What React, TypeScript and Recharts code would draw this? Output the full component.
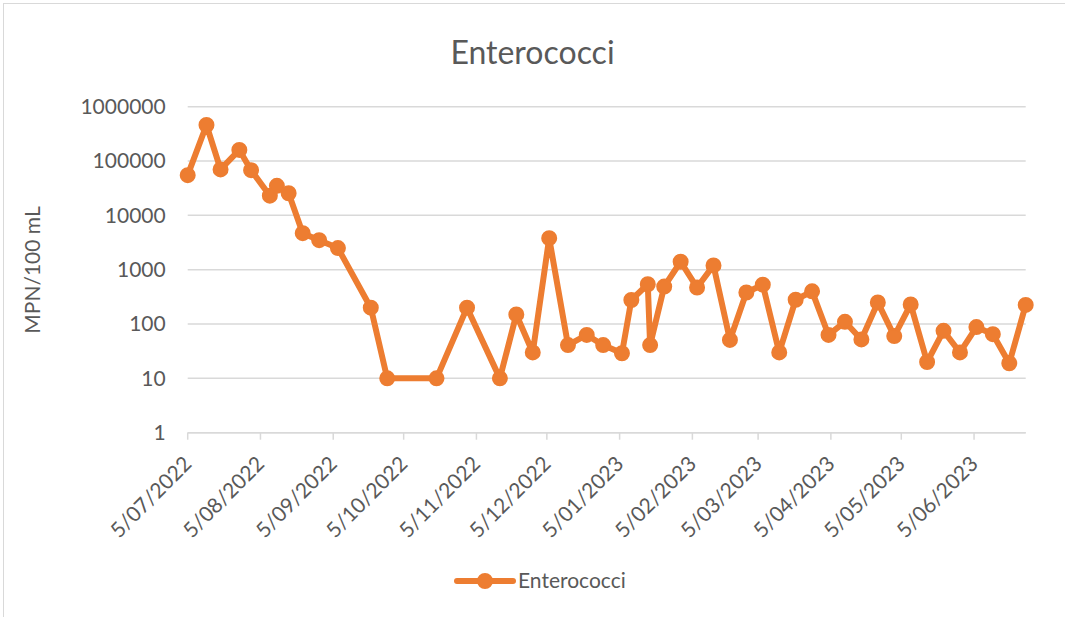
import React from "react";
import { LineChart, Line, XAxis, YAxis, CartesianGrid } from "recharts";

const seriesName = "Enterococci";
const sampleDates = [
  "2022-07-05", "2022-07-13", "2022-07-19", "2022-07-27", "2022-08-01", "2022-08-09",
  "2022-08-12", "2022-08-17", "2022-08-23", "2022-08-30", "2022-09-07", "2022-09-21",
  "2022-09-28", "2022-10-19", "2022-11-01", "2022-11-15", "2022-11-22", "2022-11-29",
  "2022-12-06", "2022-12-14", "2022-12-22", "2022-12-29", "2023-01-06", "2023-01-10",
  "2023-01-17", "2023-01-18", "2023-01-24", "2023-01-31", "2023-02-07", "2023-02-14",
  "2023-02-21", "2023-02-28", "2023-03-07", "2023-03-14", "2023-03-21", "2023-03-28",
  "2023-04-04", "2023-04-11", "2023-04-18", "2023-04-25", "2023-05-02", "2023-05-09",
  "2023-05-16", "2023-05-23", "2023-05-30", "2023-06-06", "2023-06-13", "2023-06-20",
  "2023-06-27",
];
const enterococciValues = [
  55000, 460000, 70000, 160000, 68000, 23000,
  35000, 25500, 4700, 3500, 2500, 200,
  10, 10, 200, 10, 150, 30,
  3800, 41, 63, 41, 29, 277,
  540, 41, 490, 1400, 470, 1200,
  51, 380, 530, 30, 280, 400,
  63, 110, 52, 250, 60, 230,
  20, 75, 30, 88, 65, 19,
  225,
];
const xTickLabels = [
  "5/07/2022", "5/08/2022", "5/09/2022", "5/10/2022", "5/11/2022", "5/12/2022",
  "5/01/2023", "5/02/2023", "5/03/2023", "5/04/2023", "5/05/2023", "5/06/2023",
];
const yTicks = [1, 10, 100, 1000, 10000, 100000, 1000000];
const yAxisTitle = "MPN/100 mL";

const isoToTime = (s: string) => {
  const [y, m, d] = s.split("-").map(Number);
  return Date.UTC(y, m - 1, d);
};
const labelToTime = (s: string) => {
  const [d, m, y] = s.split("/").map(Number);
  return Date.UTC(y, m - 1, d);
};

const data = sampleDates.map((d, i) => ({ t: isoToTime(d), v: enterococciValues[i] }));
const xTicks = xTickLabels.map(labelToTime);
const labelFor = (t: number) => {
  const i = xTicks.indexOf(t);
  return i >= 0 ? xTickLabels[i] : "";
};

const ORANGE = "#ED7D31";
const TEXT = "#595959";
const GRID = "#D9D9D9";
const FONT = "Lato, 'Open Sans', sans-serif";

const XTick = (props: any) => {
  const { x, y, payload } = props;
  const ay = 460;
  return (
    <text
      x={x}
      y={ay}
      dy="0.35em"
      textAnchor="end"
      fill={TEXT}
      fontSize={21}
      fontFamily={FONT}
      transform={`rotate(-45, ${x}, ${ay})`}
    >
      {labelFor(payload.value)}
    </text>
  );
};

export default function App() {
  return (
    <div style={{ position: "absolute", left: 0, top: 0, width: 1065, height: 617, overflow: "hidden", background: "#fff" }}>
      <div style={{ position: "absolute", left: 3, top: 3, width: 1100, height: 700, border: `1px solid ${GRID}` }} />
      <div style={{ position: "absolute", left: 0, top: 0 }}>
        <LineChart
          width={1065}
          height={617}
          data={data}
          margin={{ top: 106.7, right: 39.3, left: 0, bottom: 0 }}
        >
          <CartesianGrid vertical={false} stroke={GRID} strokeWidth={1.5} />
          <XAxis
            dataKey="t"
            type="number"
            scale="linear"
            domain={["dataMin", "dataMax"]}
            ticks={xTicks}
            interval={0}
            height={184.3}
            stroke={GRID}
            strokeWidth={1.5}
            tickSize={7}
            tick={<XTick />}
          />
          <YAxis
            scale="log"
            domain={[1, 1000000]}
            ticks={yTicks}
            interval={0}
            allowDataOverflow
            width={187.7}
            axisLine={false}
            tickLine={false}
            tickSize={0}
            tickMargin={22}
            tick={{ fill: TEXT, fontSize: 21, fontFamily: FONT }}
            tickFormatter={(v: number) => String(v)}
          />
          <Line
            type="linear"
            dataKey="v"
            name={seriesName}
            stroke={ORANGE}
            strokeWidth={6}
            strokeLinejoin="round"
            dot={{ r: 7, fill: ORANGE, stroke: ORANGE, strokeWidth: 2 }}
            activeDot={false}
            isAnimationActive={false}
          />
        </LineChart>
      </div>
      <div style={{ position: "absolute", left: 0, top: 30, width: 1065, textAlign: "center", fontFamily: FONT, fontSize: 32, color: TEXT, lineHeight: "44px" }}>
        {seriesName}
      </div>
      <svg style={{ position: "absolute", left: 0, top: 0 }} width={1065} height={617}>
        <text
          x={33}
          y={270}
          dy="0.35em"
          textAnchor="middle"
          fill={TEXT}
          fontSize={21}
          fontFamily={FONT}
          transform="rotate(-90, 33, 270)"
        >
          {yAxisTitle}
        </text>
        <line x1={457} y1={581} x2={513} y2={581} stroke={ORANGE} strokeWidth={6} strokeLinecap="round" />
        <circle cx={485} cy={581} r={7} fill={ORANGE} stroke={ORANGE} strokeWidth={2} />
        <text x={518} y={581} dy="0.35em" fill={TEXT} fontSize={21} fontFamily={FONT}>
          {seriesName}
        </text>
      </svg>
    </div>
  );
}
